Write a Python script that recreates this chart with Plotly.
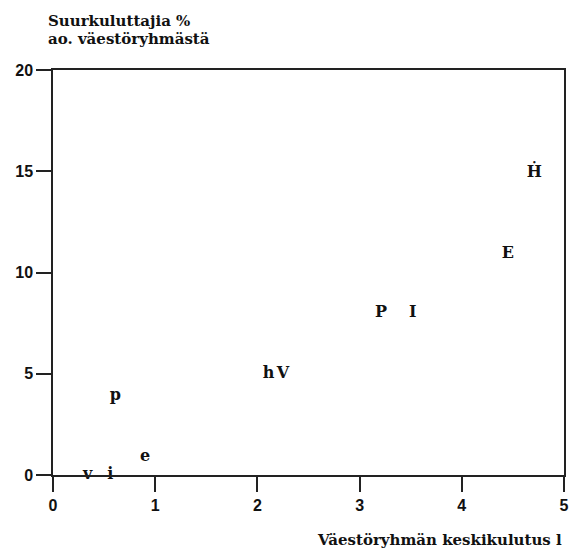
import plotly.graph_objects as go

labels = ["v", "i", "e", "p", "h", "V", "P", "I", "E", "Ḣ"]
x_vals = [0.34, 0.56, 0.90, 0.61, 2.11, 2.25, 3.21, 3.52, 4.45, 4.71]
y_vals = [0.0, 0.0, 0.9, 3.9, 5.0, 5.0, 8.0, 8.0, 10.9, 14.9]

x_ticks = [0, 1, 2, 3, 4, 5]
y_ticks = [0, 5, 10, 15, 20]

y_title_lines = ["Suurkuluttajia %", "ao. väestöryhmästä"]
x_title = "Väestöryhmän keskikulutus l"

serif = "DejaVu Serif"
sans = "Liberation Sans"

fig = go.Figure()
fig.add_trace(go.Scatter(
    x=x_vals, y=y_vals, text=labels, mode="text",
    textposition="middle center", cliponaxis=False,
    textfont=dict(family=serif, size=16, color="#111", weight="bold"),
    hoverinfo="skip", showlegend=False,
))

axis_common = dict(ticks="outside", ticklen=15, tickwidth=1.5, tickcolor="#222",
                   showline=True, linecolor="#222", linewidth=1.5, mirror=True,
                   showgrid=False, zeroline=False, automargin=False,
                   tickfont=dict(family=sans, size=16, color="#111", weight="bold"))

title_font = dict(family=serif, size=15, color="#111", weight="bold")

fig.update_layout(
    width=572, height=550,
    margin=dict(l=53, r=8, t=70, b=75),
    plot_bgcolor="white", paper_bgcolor="white",
    xaxis=dict(range=[0, 5], tickvals=x_ticks, **axis_common),
    yaxis=dict(range=[0, 20], tickvals=y_ticks, **axis_common),
    annotations=[
        dict(text=y_title_lines[0], xref="paper", yref="paper",
             x=0.0, y=1.0, xanchor="left", yanchor="middle", yshift=49, xshift=-7,
             showarrow=False, font=title_font),
        dict(text=y_title_lines[1], xref="paper", yref="paper",
             x=0.0, y=1.0, xanchor="left", yanchor="middle", yshift=31, xshift=-7,
             showarrow=False, font=title_font),
        dict(text=x_title, xref="paper", yref="paper",
             x=1.0, y=0.0, xanchor="right", yanchor="middle", yshift=-65, xshift=0,
             showarrow=False, font=title_font),
    ],
)

# remove the browser's default 8px body margin so the figure fills the window
fig.write_html("out.html", config={"displayModeBar": False},
               post_script="document.body.style.margin='0';")
